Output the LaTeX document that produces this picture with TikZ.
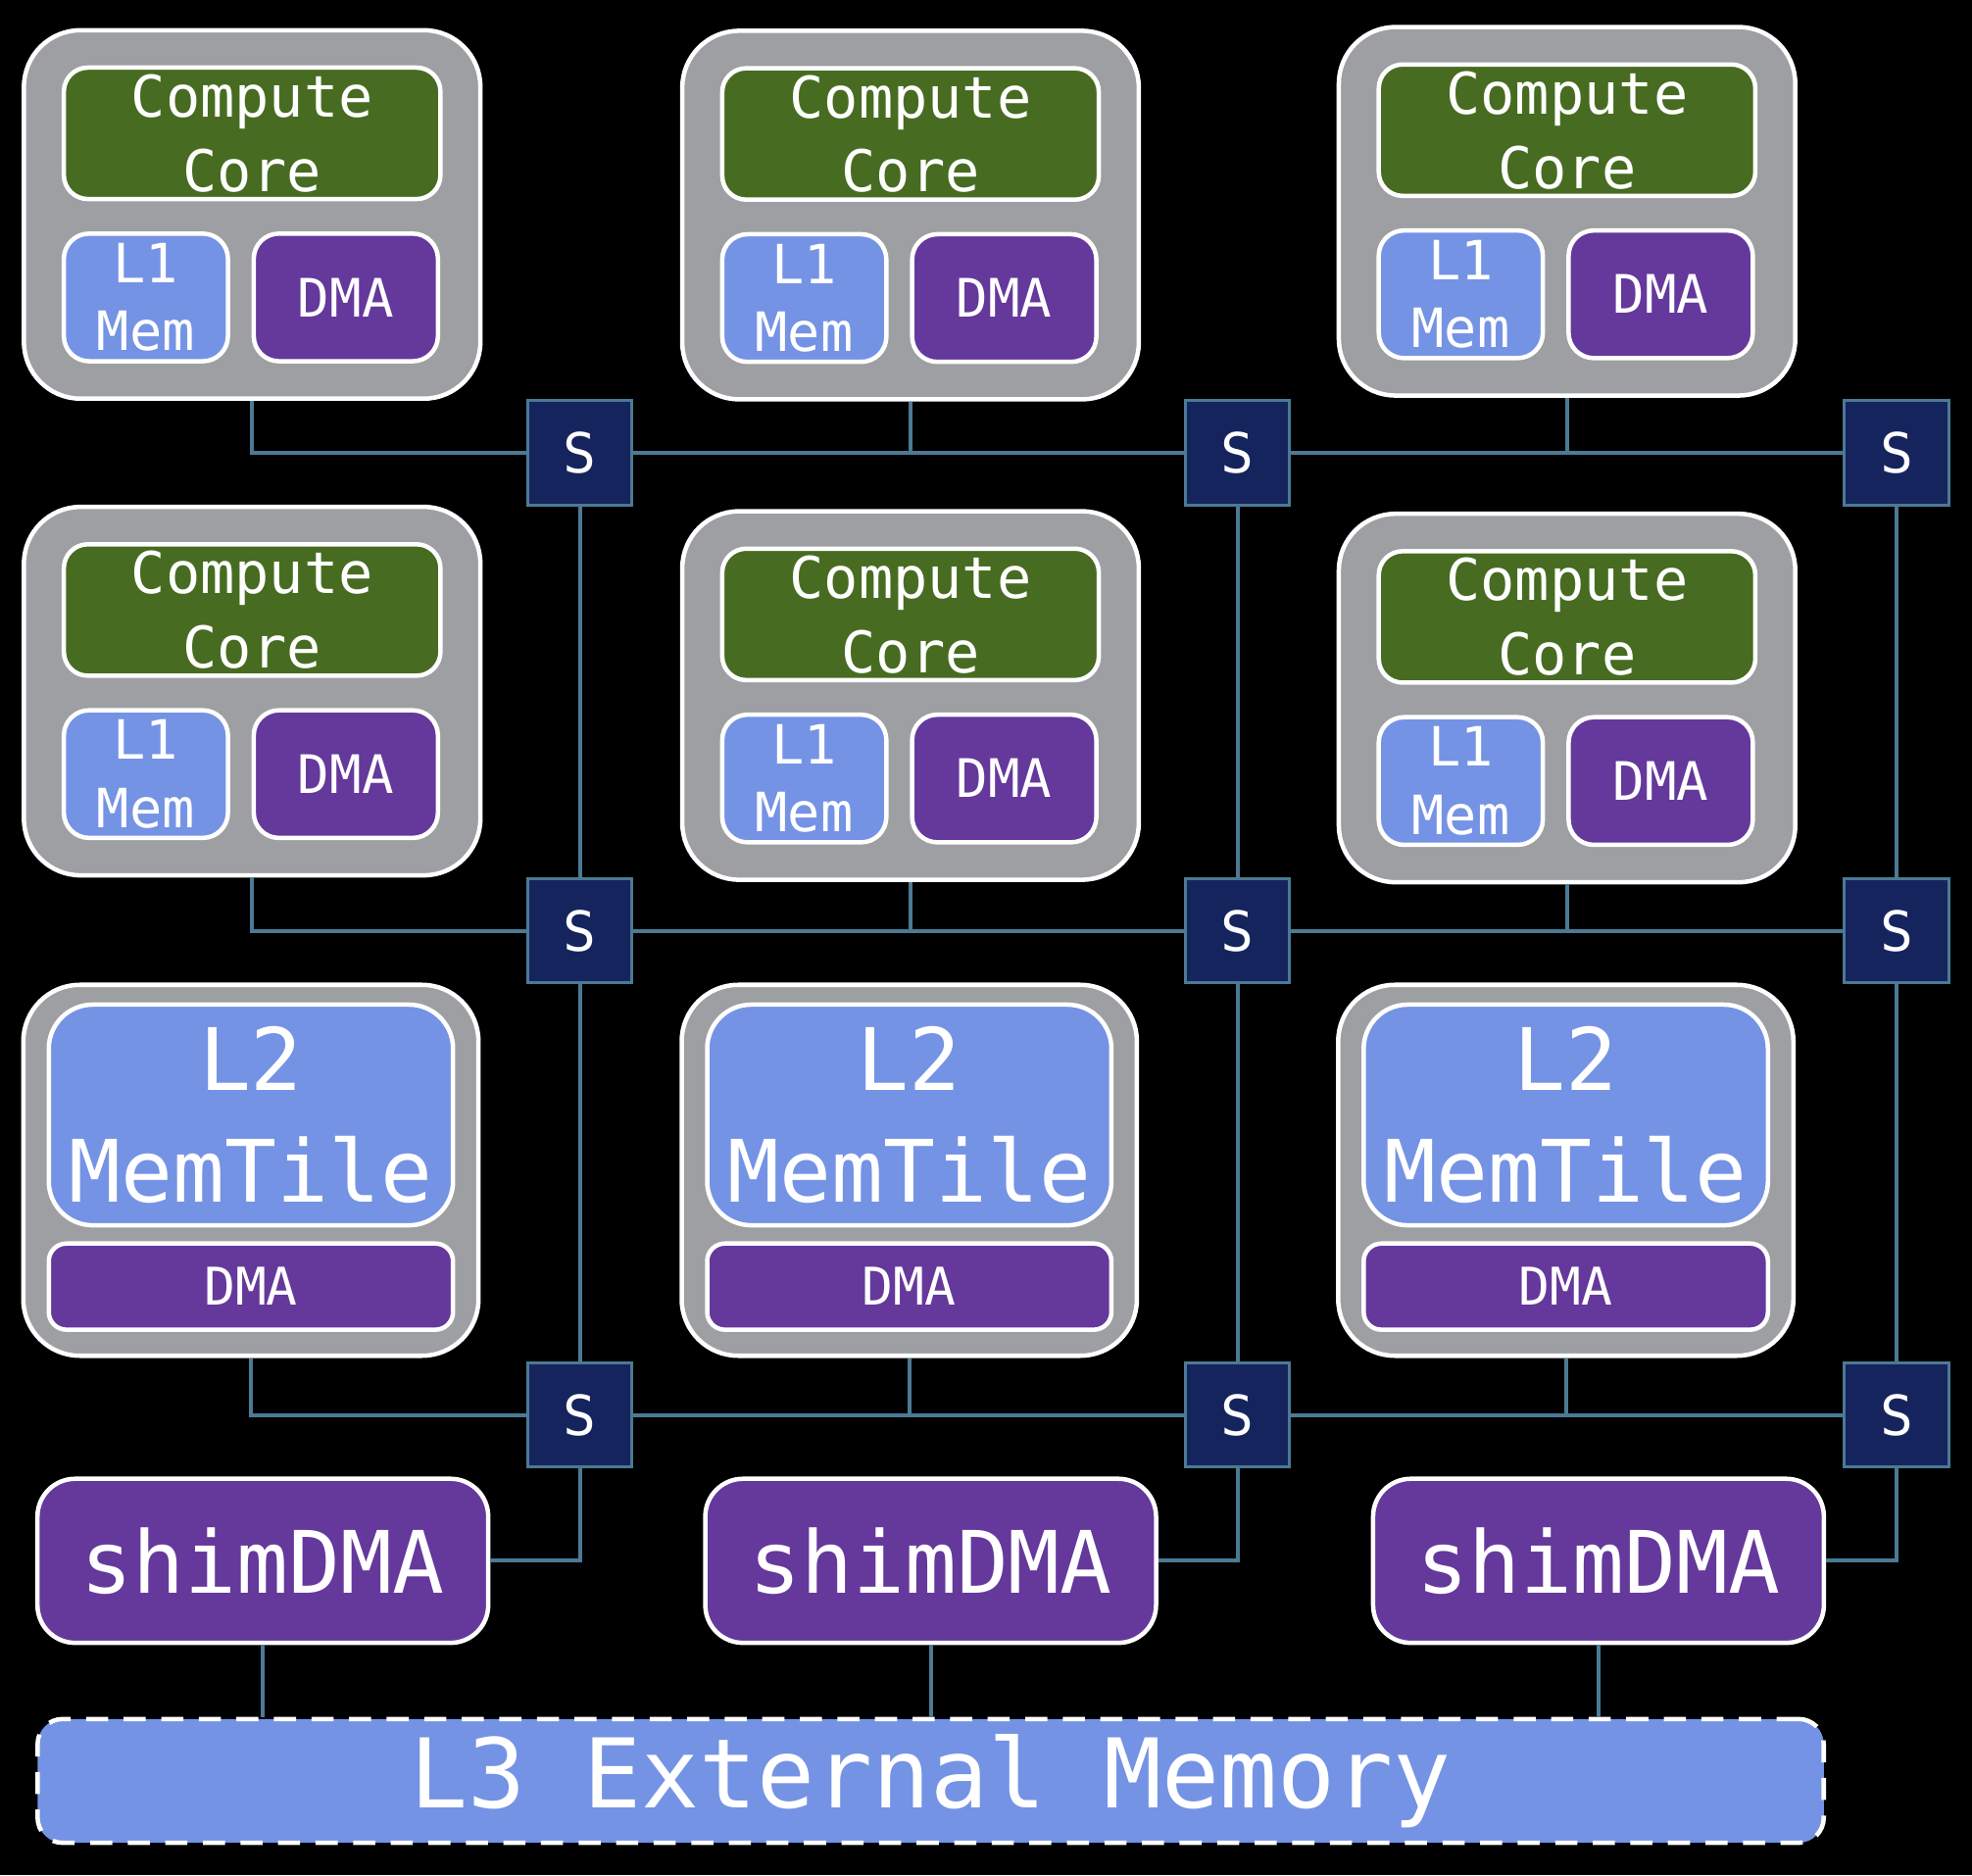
\documentclass[tikz,border=0pt]{standalone}
\usepackage{fontspec}
\setmonofont{DejaVu Sans Mono}
\usepackage{tikz}
\usetikzlibrary{positioning, fit, backgrounds}

\definecolor{tilegray}{RGB}{158,159,163}
\definecolor{coregreen}{RGB}{71,108,33}
\definecolor{memblue}{RGB}{117,147,228}
\definecolor{dmapurple}{RGB}{101,56,156}
\definecolor{swnavy}{RGB}{22,36,94}
\definecolor{wireteal}{RGB}{75,122,148}

\begin{document}
\begin{tikzpicture}[x=0.02cm, y=-0.02cm, node distance=0.48cm and 0.3cm]

        % Define styles
        \tikzstyle{blk} = [rectangle, draw=white, line width=2pt, text=white, inner sep=0pt, align=center]
        \tikzstyle{tilebox} = [blk, fill=tilegray, rounded corners=0.9cm, inner xsep=0.6cm, inner ysep=0.56cm]
        \tikzstyle{memtilebox} = [blk, fill=tilegray, rounded corners=0.9cm, inner xsep=0.37cm, inner ysep=0.33cm, yshift=-0.05cm]
        \tikzstyle{corebox} = [blk, fill=coregreen, rounded corners=0.38cm, minimum width=5.99cm, minimum height=2.09cm, font=\ttfamily\fontsize{26}{33.6}\selectfont]
        \tikzstyle{lonebox} = [blk, fill=memblue, rounded corners=0.4cm, minimum width=2.61cm, minimum height=2.03cm, font=\ttfamily\fontsize{24.5}{30.7}\selectfont]
        \tikzstyle{dmabox} = [blk, fill=dmapurple, rounded corners=0.4cm, minimum width=2.93cm, minimum height=2.03cm, font=\ttfamily\fontsize{24}{30}\selectfont]
        \tikzstyle{ltwobox} = [blk, fill=memblue, rounded corners=0.7cm, minimum width=6.43cm, minimum height=3.51cm, font=\ttfamily\fontsize{39}{50.6}\selectfont]
        \tikzstyle{mtdmabox} = [blk, fill=dmapurple, rounded corners=0.28cm, minimum width=6.43cm, minimum height=1.37cm, font=\ttfamily\fontsize{23.5}{28}\selectfont]
        \tikzstyle{swbox} = [rectangle, draw=wireteal, line width=1.3pt, fill=swnavy, text=white, minimum size=1.66cm, inner sep=0pt, font=\ttfamily\fontsize{25}{28}\selectfont]
        \tikzstyle{shimbox} = [blk, fill=dmapurple, rounded corners=0.6cm, minimum width=7.17cm, minimum height=2.61cm, font=\ttfamily\fontsize{39}{46}\selectfont]
        \tikzstyle{extbox} = [blk, fill=memblue, dash pattern=on 10pt off 7pt, rounded corners=0.4cm, minimum width=28.41cm, minimum height=1.97cm, font=\ttfamily\fontsize{43.5}{52}\selectfont]
        \tikzstyle{wire} = [draw=wireteal, line width=1.8pt]

        \useasboundingbox (0,0) rectangle (1568,1491);

        % Compute tiles, row 1
        \node [corebox] (core11) at (200.5,106) {Compute\\Core};
        \node [lonebox, below right=0.48cm and 0cm of core11.south west] (lmem11) {L1\\Mem};
        \node [dmabox, below left=0.48cm and 0.04cm of core11.south east] (dma11) {DMA};
        \node [corebox] (core12) at (724,106.5) {Compute\\Core};
        \node [lonebox, below right=0.48cm and 0cm of core12.south west] (lmem12) {L1\\Mem};
        \node [dmabox, below left=0.48cm and 0.04cm of core12.south east] (dma12) {DMA};
        \node [corebox] (core13) at (1246,103.5) {Compute\\Core};
        \node [lonebox, below right=0.48cm and 0cm of core13.south west] (lmem13) {L1\\Mem};
        \node [dmabox, below left=0.48cm and 0.04cm of core13.south east] (dma13) {DMA};

        % Compute tiles, row 2
        \node [corebox] (core21) at (200.5,485) {Compute\\Core};
        \node [lonebox, below right=0.48cm and 0cm of core21.south west] (lmem21) {L1\\Mem};
        \node [dmabox, below left=0.48cm and 0.04cm of core21.south east] (dma21) {DMA};
        \node [corebox] (core22) at (724,488.5) {Compute\\Core};
        \node [lonebox, below right=0.48cm and 0cm of core22.south west] (lmem22) {L1\\Mem};
        \node [dmabox, below left=0.48cm and 0.04cm of core22.south east] (dma22) {DMA};
        \node [corebox] (core23) at (1246,490.5) {Compute\\Core};
        \node [lonebox, below right=0.48cm and 0cm of core23.south west] (lmem23) {L1\\Mem};
        \node [dmabox, below left=0.48cm and 0.04cm of core23.south east] (dma23) {DMA};

        % Mem tiles
        \node [ltwobox] (ltwo1) at (199.5,886.5) {L2\\MemTile};
        \node [mtdmabox, below=0.22cm of ltwo1] (mtdma1) {DMA};
        \node [ltwobox] (ltwo2) at (723,886.5) {L2\\MemTile};
        \node [mtdmabox, below=0.22cm of ltwo2] (mtdma2) {DMA};
        \node [ltwobox] (ltwo3) at (1245,886.5) {L2\\MemTile};
        \node [mtdmabox, below=0.22cm of ltwo3] (mtdma3) {DMA};

        % Tile frames
        \begin{pgfonlayer}{background}
            \fill [black] (0,0) rectangle (1568,1491);
            \node [tilebox, fit=(core11)(lmem11)(dma11)] (tile11) {};
            \node [tilebox, fit=(core12)(lmem12)(dma12)] (tile12) {};
            \node [tilebox, fit=(core13)(lmem13)(dma13)] (tile13) {};
            \node [tilebox, fit=(core21)(lmem21)(dma21)] (tile21) {};
            \node [tilebox, fit=(core22)(lmem22)(dma22)] (tile22) {};
            \node [tilebox, fit=(core23)(lmem23)(dma23)] (tile23) {};
            \node [memtilebox, fit=(ltwo1)(mtdma1)] (memtile1) {};
            \node [memtilebox, fit=(ltwo2)(mtdma2)] (memtile2) {};
            \node [memtilebox, fit=(ltwo3)(mtdma3)] (memtile3) {};
        \end{pgfonlayer}

        % Switches
        \node [swbox] (sw11) at (461,360) {S};
        \node [swbox] (sw12) at (984,360) {S};
        \node [swbox] (sw13) at (1508,360) {S};
        \node [swbox] (sw21) at (461,740) {S};
        \node [swbox] (sw22) at (984,740) {S};
        \node [swbox] (sw23) at (1508,740) {S};
        \node [swbox] (sw31) at (461,1125) {S};
        \node [swbox] (sw32) at (984,1125) {S};
        \node [swbox] (sw33) at (1508,1125) {S};

        % Shim and external memory
        \node [shimbox] (shim1) at (209,1241) {shimDMA};
        \node [shimbox] (shim2) at (740,1241) {shimDMA};
        \node [shimbox] (shim3) at (1271,1241) {shimDMA};
        \node [extbox] (extmem) at (740,1416) {L3 External Memory};

        % Row wires
        \path [wire] (tile11.south) |- (sw11.west);
        \path [wire] (sw11) -- (sw12);
        \path [wire] (sw12) -- (sw13);
        \path [wire] (tile12.south) -- (tile12.south |- sw11.east);
        \path [wire] (tile13.south) -- (tile13.south |- sw12.east);
        \path [wire] (tile21.south) |- (sw21.west);
        \path [wire] (sw21) -- (sw22);
        \path [wire] (sw22) -- (sw23);
        \path [wire] (tile22.south) -- (tile22.south |- sw21.east);
        \path [wire] (tile23.south) -- (tile23.south |- sw22.east);
        \path [wire] (memtile1.south) |- (sw31.west);
        \path [wire] (sw31) -- (sw32);
        \path [wire] (sw32) -- (sw33);
        \path [wire] (memtile2.south) -- (memtile2.south |- sw31.east);
        \path [wire] (memtile3.south) -- (memtile3.south |- sw32.east);

        % Column wires
        \path [wire] (sw11) -- (sw21);
        \path [wire] (sw21) -- (sw31);
        \path [wire] (sw12) -- (sw22);
        \path [wire] (sw22) -- (sw32);
        \path [wire] (sw13) -- (sw23);
        \path [wire] (sw23) -- (sw33);
        \path [wire] (sw31.south) |- (shim1.east);
        \path [wire] (sw32.south) |- (shim2.east);
        \path [wire] (sw33.south) |- (shim3.east);

        % Shim to L3
        \path [wire] (shim1) -- (shim1 |- extmem.north);
        \path [wire] (shim2) -- (shim2 |- extmem.north);
        \path [wire] (shim3) -- (shim3 |- extmem.north);

    \end{tikzpicture}
\end{document}
